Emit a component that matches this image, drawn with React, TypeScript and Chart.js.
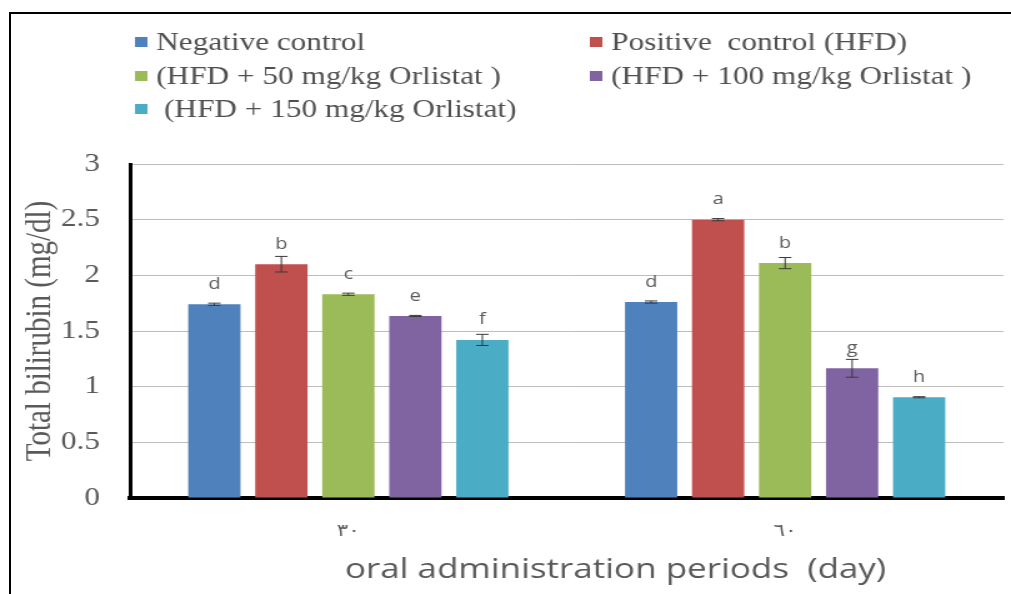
import React, { useEffect, useRef } from 'react';
import { Chart, registerables } from 'chart.js';

Chart.register(...registerables);

// ---- data ----
const categories = ['٣٠', '٦٠'];
const seriesLabels = [
  'Negative control',
  'Positive  control (HFD)',
  '(HFD + 50 mg/kg Orlistat )',
  '(HFD + 100 mg/kg Orlistat )',
  ' (HFD + 150 mg/kg Orlistat)',
];
const negativeControl = [1.74, 1.76];
const positiveControl = [2.1, 2.5];
const hfd50 = [1.83, 2.11];
const hfd100 = [1.635, 1.165];
const hfd150 = [1.42, 0.905];

const negativeErr = [0.01, 0.01];
const positiveErr = [0.07, 0.01];
const hfd50Err = [0.01, 0.05];
const hfd100Err = [0.005, 0.08];
const hfd150Err = [0.05, 0.005];

const negativeLetters = ['d', 'd'];
const positiveLetters = ['b', 'a'];
const hfd50Letters = ['c', 'b'];
const hfd100Letters = ['e', 'g'];
const hfd150Letters = ['f', 'h'];

const yMin = 0;
const yMax = 3;
const yStep = 0.5;

const yTitle = 'Total bilirubin (mg/dl)';
const xTitle = 'oral administration periods  (day)';

const seriesColors = ['#4F81BD', '#C0504D', '#9BBB59', '#8064A2', '#4BACC6'];

// ---- layout (canvas drawn narrow and stretched horizontally, like the source) ----
const INNER_W = 809;
const INNER_H = 594;
const SHOWN_W = 1011;

const seriesValues = [negativeControl, positiveControl, hfd50, hfd100, hfd150];
const seriesErrors = [negativeErr, positiveErr, hfd50Err, hfd100Err, hfd150Err];
const seriesLetters = [negativeLetters, positiveLetters, hfd50Letters, hfd100Letters, hfd150Letters];

const SERIF = '"Liberation Serif", "Times New Roman", serif';

const legendPlugin = {
  id: 'twoColumnLegend',
  afterDraw(chart: any) {
    const ctx = chart.ctx;
    const colX = [108, 472];
    const rowY = [42, 76, 109];
    ctx.save();
    ctx.font = '25px ' + SERIF;
    ctx.textBaseline = 'middle';
    ctx.textAlign = 'left';
    chart.data.datasets.forEach((ds: any, i: number) => {
      const bx = colX[i % 2];
      const y = rowY[Math.floor(i / 2)];
      ctx.fillStyle = ds.backgroundColor;
      ctx.fillRect(bx, y - 5, 10, 10);
      ctx.fillStyle = '#505050';
      ctx.fillText(ds.label, bx + 17, y + 1);
    });
    ctx.restore();
  },
};

const errorAndLetterPlugin = {
  id: 'errorBarsLetters',
  afterDatasetsDraw(chart: any) {
    const ctx = chart.ctx;
    const yScale = chart.scales.y;
    ctx.save();
    chart.data.datasets.forEach((ds: any, i: number) => {
      const meta = chart.getDatasetMeta(i);
      meta.data.forEach((bar: any, j: number) => {
        const v = seriesValues[i][j];
        const e = seriesErrors[i][j];
        const yTop = yScale.getPixelForValue(v + e);
        const yBot = yScale.getPixelForValue(v - e);
        ctx.strokeStyle = '#3a3a3a';
        ctx.lineWidth = 1;
        ctx.beginPath();
        ctx.moveTo(bar.x, yTop);
        ctx.lineTo(bar.x, yBot);
        ctx.moveTo(bar.x - 5, yTop);
        ctx.lineTo(bar.x + 5, yTop);
        ctx.moveTo(bar.x - 5, yBot);
        ctx.lineTo(bar.x + 5, yBot);
        ctx.stroke();
        ctx.fillStyle = '#595959';
        ctx.font = '16px "Open Sans", "Liberation Sans", sans-serif';
        ctx.textAlign = 'center';
        ctx.textBaseline = 'middle';
        ctx.fillText(seriesLetters[i][j], bar.x, bar.y - 20);
      });
    });
    ctx.restore();
  },
};

const xTitlePlugin = {
  id: 'xTitle',
  afterDraw(chart: any) {
    const ctx = chart.ctx;
    const a = chart.chartArea;
    ctx.save();
    ctx.font = '28px "Open Sans", "Liberation Sans", sans-serif';
    ctx.fillStyle = '#595959';
    ctx.textAlign = 'center';
    ctx.textBaseline = 'alphabetic';
    ctx.fillText(xTitle, (a.left + a.right) / 2 + 39, 578);
    ctx.restore();
  },
};

export default function App() {
  const canvasRef = useRef<HTMLCanvasElement | null>(null);

  useEffect(() => {
    const canvas = canvasRef.current;
    if (!canvas) return;
    const chart = new Chart(canvas, {
      type: 'bar',
      data: {
        labels: categories,
        datasets: seriesLabels.map((label, i) => ({
          label,
          data: seriesValues[i],
          backgroundColor: seriesColors[i],
          borderWidth: 0,
          categoryPercentage: 0.767,
          barPercentage: 0.78,
        })),
      },
      options: {
        animation: false,
        responsive: false,
        devicePixelRatio: 1,
        layout: { padding: { top: 164, left: 10, right: 6, bottom: 0 } },
        plugins: {
          legend: { display: false },
          tooltip: { enabled: false },
          title: { display: false },
        },
        scales: {
          x: {
            grid: { display: false, drawTicks: false },
            border: { display: true, color: '#000000', width: 4 },
            ticks: {
              color: '#595959',
              font: { family: '"DejaVu Sans", sans-serif', size: 17 },
              padding: 23,
            },
            afterFit: (axis: any) => {
              axis.height = 96;
            },
          },
          y: {
            min: yMin,
            max: yMax,
            ticks: {
              stepSize: yStep,
              color: '#595959',
              font: { family: SERIF, size: 25 },
              padding: 24,
              callback: (v: any) => String(Number(v)),
            },
            grid: { color: '#bdbdbd', lineWidth: 1, drawTicks: false },
            border: { display: true, color: '#000000', width: 3 },
            title: {
              display: true,
              text: yTitle,
              color: '#595959',
              font: { family: SERIF, size: 29 },
              padding: { top: 5, bottom: 0 },
            },
            afterFit: (axis: any) => {
              axis.width = 94;
            },
          },
        },
      },
      plugins: [legendPlugin, errorAndLetterPlugin, xTitlePlugin],
    });
    return () => chart.destroy();
  }, []);

  return (
    <div
      style={{
        position: 'fixed',
        left: 0,
        top: 0,
        width: SHOWN_W,
        height: INNER_H,
        overflow: 'hidden',
        background: '#ffffff',
      }}
    >
      <div
        style={{
          position: 'absolute',
          left: 9,
          top: 12,
          width: 1100,
          height: 700,
          border: '2px solid #000',
          boxSizing: 'border-box',
        }}
      />
      <canvas
        ref={canvasRef}
        width={INNER_W}
        height={INNER_H}
        style={{
          position: 'absolute',
          left: 0,
          top: 0,
          display: 'block',
          width: SHOWN_W + 'px',
          height: INNER_H + 'px',
        }}
      />
    </div>
  );
}
